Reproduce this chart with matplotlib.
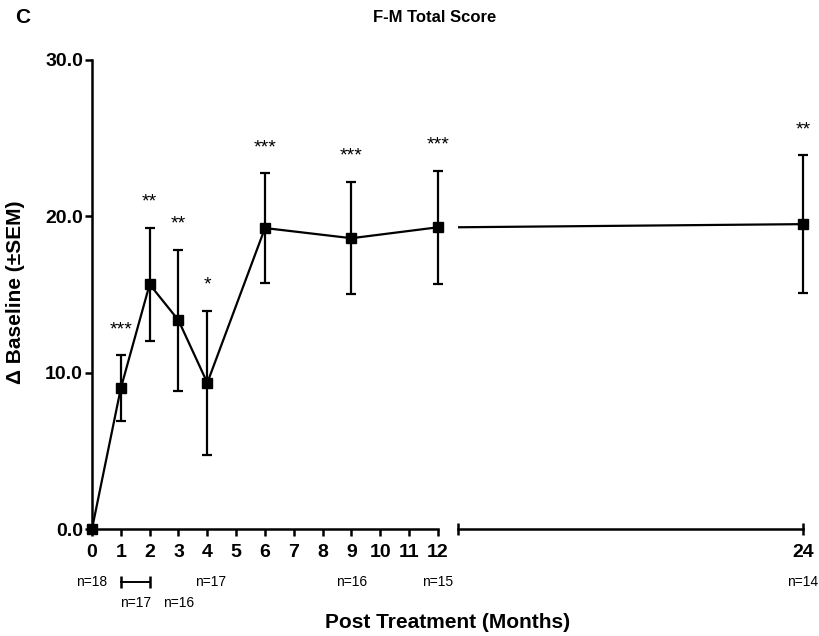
import matplotlib
matplotlib.use('Agg')
import matplotlib.pyplot as plt
import matplotlib.transforms as mtransforms

plt.rcParams['font.family'] = ['Liberation Sans', 'DejaVu Sans']

# F-M total score change from baseline (mean +/- SEM)
months = [0, 1, 2, 3, 4, 6, 9, 12, 24]
mean = [0.0, 9.0, 15.65, 13.35, 9.35, 19.25, 18.6, 19.3, 19.5]
sem = [0.0, 2.1, 3.6, 4.5, 4.6, 3.5, 3.6, 3.6, 4.4]
stars = ['', '***', '**', '**', '*', '***', '***', '***', '**']

# patient counts shown under the x axis: (month position, row, text)
n_x = [0, 1.5, 3, 4.1, 9, 12, 24]
n_row = [0, 1, 1, 0, 0, 0, 0]
n_text = ['n=18', 'n=17', 'n=16', 'n=17', 'n=16', 'n=15', 'n=14']
bracket = [1, 2]

fig = plt.figure(figsize=(8.19, 6.36), dpi=100)
ax1 = fig.add_axes([0.1123, 0.1682, 0.4225, 0.7375])
ax2 = fig.add_axes([0.5592, 0.1682, 0.4212, 0.7375])

lw = 1.6
ekw = dict(fmt='-s', color='black', ms=7.5, lw=lw, elinewidth=lw,
           capsize=3.6, capthick=lw, clip_on=False, zorder=5)

# 0-12 months segment
ax1.errorbar(months[:8], mean[:8], yerr=sem[:8], **ekw)
# 12-24 months segment (line enters from the break)
ax2.plot(months[7:], mean[7:], color='black', lw=lw, zorder=4)
ax2.errorbar(months[8:], mean[8:], yerr=sem[8:], **ekw)

for ax in (ax1, ax2):
    ax.set_ylim(0, 30)
    for side in ('top', 'right'):
        ax.spines[side].set_visible(False)
    ax.spines['bottom'].set_linewidth(1.8)
    ax.spines['left'].set_linewidth(1.8)
    ax.tick_params(axis='both', which='major', width=1.8, length=5,
                   labelsize=14)
    ax.tick_params(axis='x', which='major', pad=6)
    ax.tick_params(axis='y', which='major', pad=1.5)

ax1.set_xlim(0, 12)
ax1.set_xticks(months[:5] + [5, 6, 7, 8, 9, 10, 11, 12])
ax1.set_xticklabels([str(m) for m in ax1.get_xticks()], fontweight='bold')
ax1.set_xticks([12], minor=True)
ax1.tick_params(axis='x', which='minor', direction='in', length=4, width=1.8)
ax1.set_yticks([0, 10, 20, 30])
ax1.set_yticklabels(['0.0', '10.0', '20.0', '30.0'], fontweight='bold')

ax2.set_xlim(12, 24)
ax2.set_xticks([24])
ax2.set_xticklabels(['24'], fontweight='bold')
ax2.set_xticks([12], minor=True)
ax2.tick_params(axis='x', which='major', direction='inout', length=9, pad=6.5)
ax2.tick_params(axis='x', which='minor', direction='inout', length=8, width=1.8)
ax2.spines['left'].set_visible(False)
ax2.set_yticks([])

# significance stars above each error bar
for m, y, e, s in zip(months, mean, sem, stars):
    if not s:
        continue
    ax = ax1 if m <= 12 else ax2
    ax.text(m, y + e + 1.35, s, ha='center', va='baseline', fontsize=14)

# n labels under the axis
for x, r, t in zip(n_x, n_row, n_text):
    ax = ax1 if x <= 12 else ax2
    tr = mtransforms.blended_transform_factory(ax.transData, ax.transAxes)
    ax.text(x, -0.113 - 0.045 * r, t, transform=tr, ha='center', va='center',
            fontsize=10)
tr1 = mtransforms.blended_transform_factory(ax1.transData, ax1.transAxes)
ax1.plot(bracket, [-0.113, -0.113], transform=tr1, color='black', lw=1.4,
         marker='|', ms=8, mew=1.8, clip_on=False)

fig.text(0.531, 0.973, 'F-M Total Score', ha='center', va='center',
         fontsize=12, fontweight='bold')
fig.text(0.018, 0.973, 'C', ha='left', va='center', fontsize=15,
         fontweight='bold')
fig.text(0.547, 0.022, 'Post Treatment (Months)', ha='center', va='center',
         fontsize=15, fontweight='bold')
fig.text(0.0195, 0.541, '\u0394 Baseline (\u00b1SEM)', ha='center',
         va='center', rotation=90, fontsize=15, fontweight='bold')

fig.savefig('out.png', dpi=100)
